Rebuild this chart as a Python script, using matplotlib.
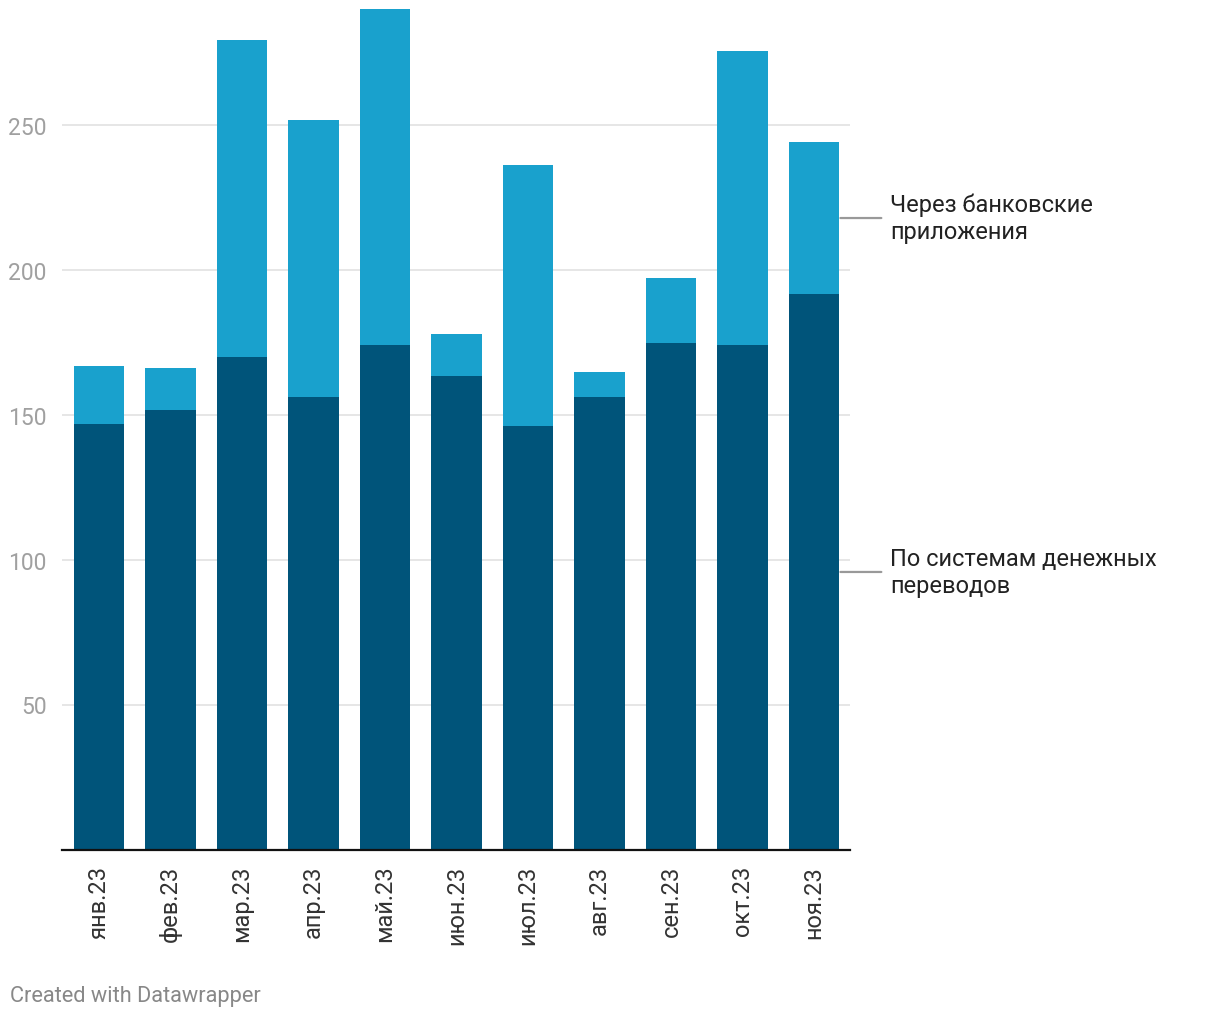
import matplotlib
matplotlib.use("Agg")
import matplotlib.pyplot as plt
import numpy as np

plt.rcParams['font.family'] = ['Roboto', 'DejaVu Sans']

months = ["янв.23", "фев.23", "мар.23", "апр.23", "май.23", "июн.23",
          "июл.23", "авг.23", "сен.23", "окт.23", "ноя.23"]
money_transfer = [146.6, 151.4, 170.0, 155.9, 174.1, 163.4, 145.9, 155.9, 174.5, 174.1, 191.4]
bank_apps = [20.0, 14.5, 109.3, 95.5, 115.6, 14.5, 90.0, 8.9, 22.7, 101.4, 52.7]
yticks = [50, 100, 150, 200, 250]
label_bank = "Через банковские\nприложения"
label_money = "По системам денежных\nпереводов"
footer = "Created with Datawrapper"

c_dark = "#00547a"
c_light = "#19a1cd"

fig = plt.figure(figsize=(12.2, 10.2), dpi=100)
ax = fig.add_axes([62/1220, 1 - 850.5/1020, (850-62)/1220, (850.5-9.5)/1020])

x = np.arange(len(months))
ax.bar(x, money_transfer, width=0.7, color=c_dark, zorder=3)
ax.bar(x, bank_apps, width=0.7, bottom=money_transfer, color=c_light, zorder=3)

ax.set_xlim(-0.517, 10.503)
ax.set_ylim(0, 290)

ax.set_yticks(yticks)
ax.set_yticklabels([str(v) for v in yticks])
ax.grid(axis='y', color='#e2e2e2', linewidth=1.2, zorder=0)
ax.tick_params(axis='y', length=0, pad=11, labelsize=16.5, labelcolor='#a0a0a0')
for lab in ax.get_yticklabels():
    lab.set_horizontalalignment('right')

ax.set_xticks(x)
ax.set_xticklabels(months, rotation=90, va='top', ha='center')
ax.tick_params(axis='x', length=0, pad=11, labelsize=17, labelcolor='#333333')

for s in ['top', 'right', 'left']:
    ax.spines[s].set_visible(False)
ax.spines['bottom'].set_color('#111111')
ax.spines['bottom'].set_linewidth(1.6)
ax.spines['bottom'].set_zorder(4)

# right-side labels
last = len(months) - 1
y_bank = money_transfer[last] + bank_apps[last] / 2
y_money = money_transfer[last] / 2
for yv, txt in [(y_bank, label_bank), (y_money, label_money)]:
    ax.annotate("", xy=(last + 0.33, yv), xytext=(last + 0.98, yv),
                xycoords='data', textcoords='data',
                arrowprops=dict(arrowstyle='-', color='#999999', lw=1.6),
                annotation_clip=False)
    ax.text(last + 1.06, yv, txt, fontsize=17, color='#222222', va='center', ha='left',
            linespacing=1.2, clip_on=False)

fig.text(10/1220, 1 - 997/1020, footer, fontsize=15.7, color='#888888', va='center', ha='left')

fig.savefig("out.png", dpi=100, facecolor='white')
